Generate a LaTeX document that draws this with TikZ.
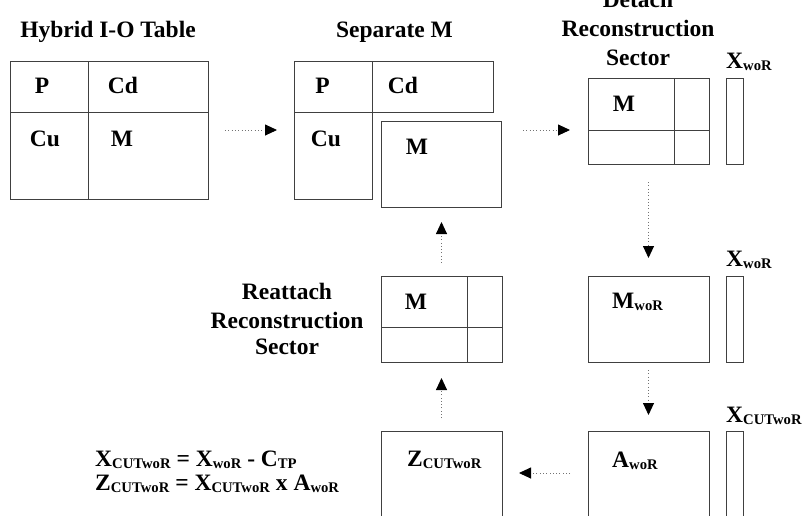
\documentclass[tikz,border=0pt]{standalone}
\usepackage{fontspec}
\setmainfont{Liberation Serif}
\usetikzlibrary{arrows.meta,calc}
\newcommand{\lsb}[1]{\raisebox{-2.5pt}{\fontsize{14.7}{15}\selectfont #1}}
\begin{document}
\begin{tikzpicture}[x=1pt,y=-1pt,
  box/.style={draw=black!75,line width=0.9pt,inner sep=0pt,outer sep=0pt},
  lbl/.style={inner sep=0pt,anchor=base,font=\fontsize{23.5}{28}\selectfont\bfseries},
  lblw/.style={lbl,anchor=base west},
  flow/.style={draw=black!55,line width=0.9pt,dash pattern=on 0.7pt off 2.6pt,
    -{Triangle[length=12pt,width=11pt,color=black]}},
  divl/.style={draw=black!75,line width=0.9pt}]
\useasboundingbox (0,0) rectangle (803,515);
\clip (0,0) rectangle (803,515);
% boxes
\node[box,minimum width=198,minimum height=138] (t1) at (109,130) {};
\node[box,minimum width=78,minimum height=138] (t2l) at (333,130) {};
\node[box,minimum width=121,minimum height=51] (t2cd) at (432.5,86.5) {};
\node[box,minimum width=120,minimum height=86] (t2m) at (441,164) {};
\node[box,minimum width=121,minimum height=86] (t3) at (648.5,121) {};
\node[box,minimum width=17,minimum height=86] (x3) at (734.5,121) {};
\node[box,minimum width=121,minimum height=86] (t4) at (648.5,319) {};
\node[box,minimum width=17,minimum height=86] (x4) at (734.5,319) {};
\node[box,minimum width=121,minimum height=94] (t5) at (648.5,478) {};
\node[box,minimum width=17,minimum height=94] (x5) at (734.5,478) {};
\node[box,minimum width=121,minimum height=94] (t6) at (441.5,478) {};
\node[box,minimum width=121,minimum height=86] (t7) at (441.5,319) {};
% dividers
\draw[divl] (88,61) -- (88,199);
\draw[divl] (10,112) -- (208,112);
\draw[divl] (294,112) -- (372,112);
\draw[divl] (674,78) -- (674,164);
\draw[divl] (588,130) -- (709,130);
\draw[divl] (467,276) -- (467,362);
\draw[divl] (381,327) -- (502,327);
% titles
\node[lbl] (h1) at (108,37) {Hybrid I-O Table};
\node[lbl] (h2) at (394.5,37) {Separate M};
\node[lbl] (h3a) at (638,7) {Detach};
\node[lbl] (h3b) at (638,36) {Reconstruction};
\node[lbl] (h3c) at (638,65) {Sector};
\node[lbl] (h7a) at (287,299) {Reattach};
\node[lbl] (h7b) at (287,328) {Reconstruction};
\node[lbl] (h7c) at (287,354) {Sector};
% cell labels
\node[lbl] (p1) at (42,93) {P};
\node[lbl] (cd1) at (123,93) {Cd};
\node[lbl] (cu1) at (45,146) {Cu};
\node[lbl] (m1) at (122,146) {M};
\node[lbl] (p2) at (322.5,93) {P};
\node[lbl] (cd2) at (403,93) {Cd};
\node[lbl] (cu2) at (326,146) {Cu};
\node[lbl] (m2) at (417,154) {M};
\node[lbl] (m3) at (624,111) {M};
\node[lbl] (m7) at (416,309) {M};
\node[lblw] (xw3) at (726,68) {X\lsb{woR}};
\node[lblw] (xw4) at (726,266) {X\lsb{woR}};
\node[lblw] (mw4) at (612,308) {M\lsb{woR}};
\node[lblw] (xc5) at (726,422) {X\lsb{CUTwoR}};
\node[lblw] (aw5) at (612,467) {A\lsb{woR}};
\node[lblw] (zc6) at (407,466) {Z\lsb{CUTwoR}};
\node[lblw] (f1) at (95,466) {X\lsb{CUTwoR} = X\lsb{woR} - C\lsb{TP}};
\node[lblw] (f2) at (95,490) {Z\lsb{CUTwoR} = X\lsb{CUTwoR} x A\lsb{woR}};
% connectors
\draw[flow,shorten <=17pt,shorten >=17pt] (t1.east) -- (t2l.west);
\draw[flow,shorten <=22pt,shorten >=18pt] ([yshift=-9pt]t3.west -| t2m.east) -- ([yshift=-9pt]t3.west);
\draw[flow,shorten <=18pt,shorten >=18pt] (t3.south) -- (t4.north);
\draw[flow,shorten <=8pt,shorten >=16pt] (t4.south) -- (t5.north);
\draw[flow,shorten <=18pt,shorten >=17pt] ([yshift=5pt]t5.west) -- ([yshift=5pt]t5.west -| t6.east);
\draw[flow,shorten <=13pt,shorten >=16pt] (t6.north) -- (t7.south);
\draw[flow,shorten <=13pt,shorten >=15pt] (t7.north) -- (t7.north |- t2m.south);
\end{tikzpicture}
\end{document}
